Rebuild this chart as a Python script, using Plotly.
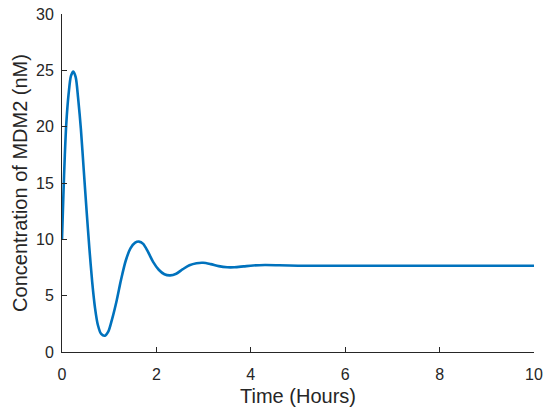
import plotly.graph_objects as go

time_hours = [0, 0.03, 0.06, 0.09, 0.14, 0.19, 0.24, 0.29, 0.34, 0.40, 0.46, 0.52,
              0.58, 0.64, 0.70, 0.76, 0.83, 0.91, 0.98, 1.06, 1.16, 1.25, 1.35,
              1.45, 1.55, 1.63, 1.72, 1.82, 1.93, 2.05, 2.17, 2.29, 2.42, 2.56,
              2.70, 2.85, 2.99, 3.15, 3.32, 3.50, 3.65, 3.85, 4.05, 4.30, 4.60,
              5.0, 5.5, 6, 7, 8, 9, 10]
mdm2_nM = [10.0, 14.0, 17.5, 20.2, 22.9, 24.5, 24.9, 24.4, 22.6, 19.8, 16.2, 12.6,
           9.2, 6.2, 3.9, 2.4, 1.6, 1.45, 1.8, 2.9, 4.6, 6.4, 8.1,
           9.2, 9.7, 9.8, 9.6, 8.9, 8.0, 7.3, 6.9, 6.8, 6.95, 7.35,
           7.7, 7.88, 7.92, 7.8, 7.62, 7.52, 7.52, 7.6, 7.68, 7.72, 7.7,
           7.66, 7.65, 7.65, 7.65, 7.65, 7.65, 7.65]

x_ticks = [0, 2, 4, 6, 8, 10]
y_ticks = [0, 5, 10, 15, 20, 25, 30]

fig = go.Figure()
fig.add_trace(go.Scatter(x=time_hours, y=mdm2_nM, mode="lines",
                         line=dict(color="#0072BD", width=2.6, shape="spline", smoothing=0.8),
                         showlegend=False))

font_family = "Liberation Sans, Arial, sans-serif"
axis_common = dict(showgrid=False, zeroline=False, showline=True, linecolor="#262626",
                   linewidth=1, ticks="inside", ticklen=5, tickcolor="#262626",
                   tickfont=dict(family=font_family, size=16, color="#262626"),
                   mirror=False, automargin=False)

fig.update_layout(
    width=550, height=414,
    margin=dict(l=62, r=16, t=14, b=62),
    paper_bgcolor="white", plot_bgcolor="white",
    font=dict(family=font_family, color="#262626"),
    xaxis=dict(range=[0, 10], tickvals=x_ticks, ticktext=[str(v) for v in x_ticks],
               ticklabelstandoff=8,
               title=dict(text="Time (Hours)", font=dict(size=20, family=font_family, color="#262626"), standoff=6),
               **axis_common),
    yaxis=dict(range=[0, 30], tickvals=y_ticks, ticktext=[str(v) for v in y_ticks],
               ticklabelstandoff=4,
               title=dict(text="Concentration of MDM2 (nM)", font=dict(size=20, family=font_family, color="#262626"), standoff=3),
               **axis_common),
)

fig.write_html("out.html", config={"displayModeBar": False},
               post_script="document.body.style.margin='0';")
